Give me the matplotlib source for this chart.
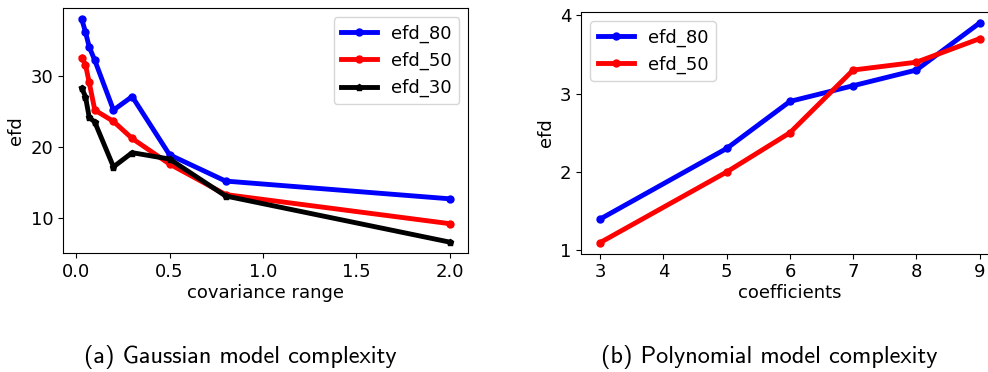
import matplotlib
matplotlib.use("Agg")
import matplotlib.pyplot as plt
from matplotlib.ticker import MultipleLocator

# gaussian model: efd vs covariance range
cov_range = [0.03, 0.05, 0.07, 0.1, 0.2, 0.3, 0.5, 0.8, 2.0]
gauss_efd_80 = [38.0, 36.2, 34.1, 32.2, 25.2, 27.1, 18.9, 15.2, 12.7]
gauss_efd_50 = [32.6, 31.6, 29.1, 25.2, 23.6, 21.2, 17.6, 13.3, 9.2]
gauss_efd_30 = [28.3, 27.1, 24.2, 23.5, 17.2, 19.2, 18.3, 13.1, 6.6]

# polynomial model: efd vs number of coefficients
coeffs = [3, 5, 6, 7, 8, 9]
poly_efd_80 = [1.4, 2.3, 2.9, 3.1, 3.3, 3.9]
poly_efd_50 = [1.1, 2.0, 2.5, 3.3, 3.4, 3.7]

plt.rcParams["font.size"] = 13

fig = plt.figure(figsize=(9.88, 3.72), dpi=100)
W, H = 988.0, 372.0
ax1 = fig.add_axes([63.3 / W, (H - 253.3) / H, 405.0 / W, 245.3 / H])
ax2 = fig.add_axes([581.3 / W, (H - 253.5) / H, 417.3 / W, 241.5 / H])

ax1.plot(cov_range, gauss_efd_80, "o-", color="blue", lw=3.5, ms=5, label="efd_80")
ax1.plot(cov_range, gauss_efd_50, "o-", color="red", lw=3.5, ms=5, label="efd_50")
ax1.plot(cov_range, gauss_efd_30, "p-", color="black", lw=3.5, ms=4.5, label="efd_30")
ax1.set_xlabel("covariance range", labelpad=2)
ax1.set_ylabel("efd")
ax1.xaxis.set_major_locator(MultipleLocator(0.5))
ax1.yaxis.set_major_locator(MultipleLocator(10))
ax1.legend(loc="upper right")

ax2.plot(coeffs, poly_efd_80, "o-", color="blue", lw=3.5, ms=5, label="efd_80")
ax2.plot(coeffs, poly_efd_50, "o-", color="red", lw=3.5, ms=5, label="efd_50")
ax2.set_xlabel("coefficients", labelpad=2)
ax2.set_ylabel("efd")
ax2.set_yticks([1, 2, 3, 4])
ax2.legend(loc="upper left")

fig.text(240 / W, 1 - 357 / H, "(a) Gaussian model complexity",
         family="cmss10", fontsize=17.5, ha="center", va="center")
fig.text(769 / W, 1 - 357 / H, "(b) Polynomial model complexity",
         family="cmss10", fontsize=17.5, ha="center", va="center")

fig.savefig("out.png", dpi=100)
